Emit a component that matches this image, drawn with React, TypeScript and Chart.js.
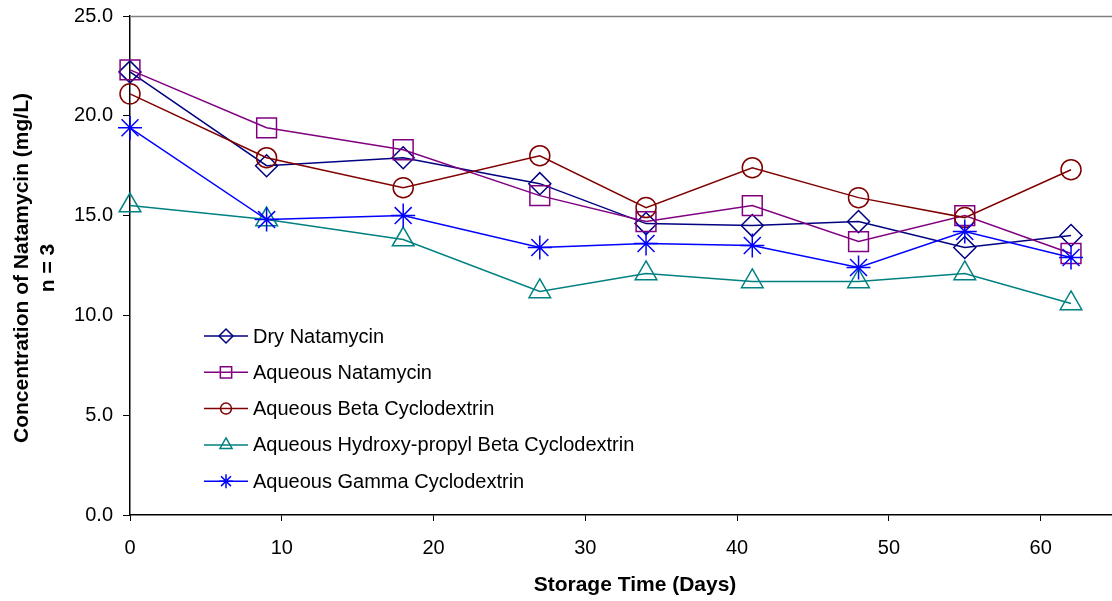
import React, { useEffect, useRef } from "react";
import { Chart, registerables } from "chart.js";
import { drawPoint } from "chart.js/helpers";

Chart.register(...registerables);

const days = [0, 9, 18, 27, 34, 41, 48, 55, 62];
const dryNatamycin = [22.2, 17.5, 17.9, 16.6, 14.6, 14.5, 14.7, 13.4, 14.0];
const aqueousNatamycin = [22.3, 19.4, 18.3, 16.0, 14.7, 15.5, 13.7, 15.0, 13.1];
const aqueousBeta = [21.1, 17.9, 16.4, 18.0, 15.4, 17.4, 15.9, 14.9, 17.3];
const aqueousHPBeta = [15.5, 14.8, 13.8, 11.2, 12.1, 11.7, 11.7, 12.1, 10.6];
const aqueousGamma = [19.4, 14.8, 15.0, 13.4, 13.6, 13.5, 12.4, 14.2, 12.9];

const xTickValues = [0, 10, 20, 30, 40, 50, 60];

const seriesNames = [
  "Dry Natamycin",
  "Aqueous Natamycin",
  "Aqueous Beta Cyclodextrin",
  "Aqueous Hydroxy-propyl Beta Cyclodextrin",
  "Aqueous Gamma Cyclodextrin",
];
const seriesValues = [dryNatamycin, aqueousNatamycin, aqueousBeta, aqueousHPBeta, aqueousGamma];
const seriesColors = ["#000080", "#800080", "#800000", "#008080", "#0000FF"];
const seriesStyles = ["rectRot", "rect", "circle", "triangle", "star"];
const seriesRadius = [11, 14, 10, 12.5, 12];
const legendRadius = [7, 8, 5.5, 7, 7];

const yTitleLines = ["Concentration of Natamycin (mg/L)", "n = 3"];
const xTitle = "Storage Time (Days)";

const FONT = "'Liberation Sans', Arial, sans-serif";

const overlayPlugin = {
  id: "overlay",
  afterDraw(chart: any) {
    const ctx = chart.ctx;
    const area = chart.chartArea;
    ctx.save();
    // top border
    ctx.strokeStyle = "#808080";
    ctx.lineWidth = 1.5;
    ctx.beginPath();
    ctx.moveTo(area.left, area.top + 0.5);
    ctx.lineTo(area.right, area.top + 0.5);
    ctx.stroke();

    // legend
    const rowY0 = 336;
    const rowStep = 36.3;
    chart.data.datasets.forEach((ds: any, i: number) => {
      const y = rowY0 + i * rowStep;
      ctx.strokeStyle = ds.borderColor;
      ctx.lineWidth = 1.5;
      ctx.beginPath();
      ctx.moveTo(204, y);
      ctx.lineTo(248, y);
      ctx.stroke();
      ctx.fillStyle = "rgba(0,0,0,0)";
      ctx.lineWidth = 1.5;
      drawPoint(ctx, { pointStyle: seriesStyles[i], radius: legendRadius[i], rotation: 0, borderWidth: 1.5 } as any, 226, y);
      ctx.fillStyle = "#000";
      ctx.font = `20px ${FONT}`;
      ctx.textAlign = "left";
      ctx.textBaseline = "middle";
      ctx.fillText(ds.label, 253, y + 1);
    });

    // y title
    ctx.fillStyle = "#000";
    ctx.font = `bold 21px ${FONT}`;
    ctx.textAlign = "center";
    ctx.textBaseline = "middle";
    const yc = 268;
    [22, 48].forEach((x, k) => {
      ctx.save();
      ctx.translate(x, yc);
      ctx.rotate(-Math.PI / 2);
      ctx.fillText(yTitleLines[k], 0, 0);
      ctx.restore();
    });

    // x title
    ctx.fillText(xTitle, 635, 585);
    ctx.restore();
  },
};

export default function App() {
  const ref = useRef<HTMLCanvasElement | null>(null);
  useEffect(() => {
    if (!ref.current) return;
    const datasets = seriesNames.map((name, i) => ({
      label: name,
      data: days.map((d, j) => ({ x: d, y: seriesValues[i][j] })),
      borderColor: seriesColors[i],
      backgroundColor: "rgba(0,0,0,0)",
      pointBackgroundColor: "rgba(0,0,0,0)",
      pointBorderColor: seriesColors[i],
      pointStyle: seriesStyles[i],
      pointRadius: seriesRadius[i],
      pointBorderWidth: 1.5,
      borderWidth: 1.5,
      showLine: true,
      tension: 0,
      clip: false,
      order: seriesNames.length - i,
    }));
    const chart = new Chart(ref.current, {
      type: "scatter",
      data: { datasets } as any,
      options: {
        animation: false,
        responsive: false,
        devicePixelRatio: 1,
        layout: { autoPadding: false, padding: { left: 0, top: 16, right: 0, bottom: 0 } },
        plugins: { legend: { display: false }, tooltip: { enabled: false } },
        scales: {
          x: {
            type: "linear",
            min: 0,
            max: 64.7,
            afterBuildTicks: (scale: any) => {
              scale.ticks = xTickValues.map((v) => ({ value: v }));
            },
            afterFit: (scale: any) => {
              scale.height = 86;
              scale.paddingLeft = 0;
              scale.paddingRight = 0;
            },
            ticks: {
              color: "#000",
              font: { family: FONT, size: 20 },
              padding: 15,
              maxRotation: 0,
              autoSkip: false,
            },
            grid: { drawOnChartArea: false, drawTicks: true, tickLength: 6, color: "#000", lineWidth: 1 },
            border: { display: true, color: "#000", width: 1.5 },
          },
          y: {
            type: "linear",
            min: 0,
            max: 25,
            afterFit: (scale: any) => {
              scale.width = 130;
              scale.paddingTop = 0;
              scale.paddingBottom = 0;
            },
            ticks: {
              stepSize: 5,
              color: "#000",
              font: { family: FONT, size: 20 },
              padding: 10,
              callback: (v: any) => Number(v).toFixed(1),
            },
            grid: { drawOnChartArea: false, drawTicks: true, tickLength: 7, color: "#000", lineWidth: 1 },
            border: { display: true, color: "#000", width: 1.5 },
          },
        },
      },
      plugins: [overlayPlugin],
    } as any);
    return () => chart.destroy();
  }, []);
  return (
    <div style={{ position: "absolute", left: 0, top: 0, width: 1112, height: 601, background: "#fff" }}>
      <canvas ref={ref} width={1112} height={601} style={{ width: 1112, height: 601, display: "block" }} />
    </div>
  );
}
